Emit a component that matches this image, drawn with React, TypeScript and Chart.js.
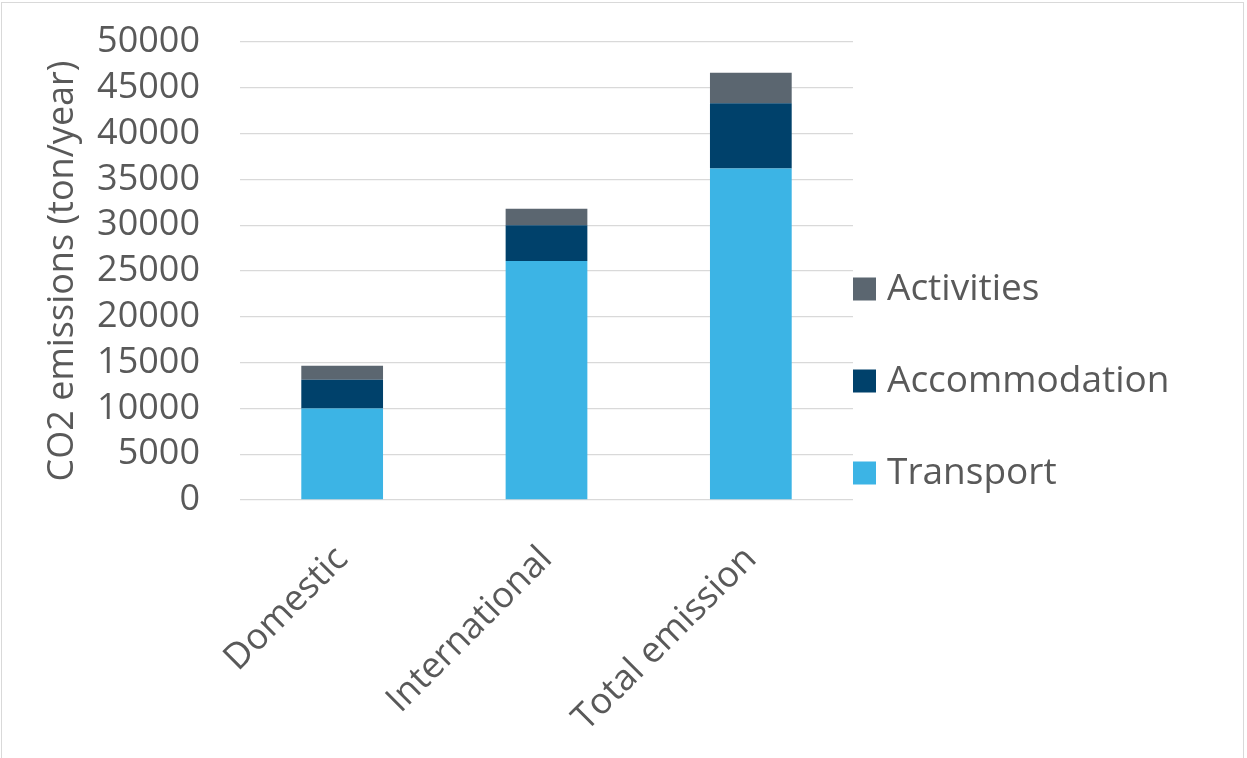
import React, { useEffect, useRef } from "react";
import { Chart, registerables } from "chart.js";

Chart.register(...registerables);

const categories = ["Domestic", "International", "Total emission"];
const transport = [10000, 26100, 36200];
const accommodation = [3130, 3900, 7100];
const activities = [1530, 1800, 3350];
const seriesLabels = ["Transport", "Accommodation", "Activities"];
const seriesColors = ["#3CB4E5", "#00416B", "#5B6670"];
const yAxisTitle = "CO2 emissions (ton/year)";

const FONT = "'Open Sans', 'Noto Sans', sans-serif";
const TEXT = "#595959";

const legendPlugin = {
  id: "customLegend",
  afterDraw(chart: any) {
    const ctx = chart.ctx;
    const ds = chart.data.datasets;
    const x = chart.chartArea.right;
    const gap = 92;
    const n = ds.length;
    const cy = chart.height / 2 + 2;
    ctx.save();
    ctx.font = `37px ${FONT}`;
    ctx.textBaseline = "middle";
    ctx.textAlign = "left";
    for (let k = 0; k < n; k++) {
      const d = ds[n - 1 - k];
      const y = cy + (k - (n - 1) / 2) * gap;
      ctx.fillStyle = d.backgroundColor;
      ctx.fillRect(x, y - 11.5, 23, 23);
      ctx.fillStyle = TEXT;
      ctx.fillText(d.label, x + 34, y);
    }
    ctx.restore();
  },
};

export default function App() {
  const ref = useRef<HTMLCanvasElement>(null);
  useEffect(() => {
    const values = [transport, accommodation, activities];
    const chart = new Chart(ref.current!, {
      type: "bar",
      data: {
        labels: categories,
        datasets: seriesLabels.map((l, i) => ({
          label: l,
          data: values[i],
          backgroundColor: seriesColors[i],
          borderWidth: 0,
          categoryPercentage: 1,
          barPercentage: 0.4,
        })),
      },
      options: {
        animation: false,
        responsive: false,
        devicePixelRatio: 1,
        layout: { padding: { top: 42, right: 394, left: 0, bottom: 0 } },
        plugins: { legend: { display: false }, tooltip: { enabled: false } },
        scales: {
          x: {
            stacked: true,
            grid: { display: false },
            border: { display: false },
            ticks: {
              color: TEXT,
              font: { family: FONT, size: 36 },
              maxRotation: 45,
              minRotation: 45,
              padding: 30,
            },
            afterFit(scale: any) {
              scale.height = 258;
              scale.paddingTop = 0;
            },
          },
          y: {
            stacked: true,
            min: 0,
            max: 50000,
            grid: { color: "#D9D9D9", lineWidth: 1.3, drawTicks: false },
            border: { display: false },
            ticks: {
              stepSize: 5000,
              autoSkip: false,
              color: TEXT,
              padding: 40,
              font: { family: FONT, size: 36, lineHeight: 1 },
              callback: (v: any) => String(v),
            },
            title: {
              display: true,
              text: yAxisTitle,
              color: TEXT,
              font: { family: FONT, size: 36 },
              padding: { top: 41, bottom: 0 },
            },
            afterFit(scale: any) {
              scale.width = 240;
              scale.paddingTop = 0;
              scale.paddingBottom = 0;
            },
          },
        },
      },
      plugins: [legendPlugin],
    });
    return () => chart.destroy();
  }, []);
  return (
    <div style={{ position: "fixed", left: 0, top: 0, width: 1247, height: 758, background: "#fff", overflow: "hidden" }}>
      <div
        style={{
          position: "absolute",
          left: 1,
          top: 2,
          width: 1243,
          height: 800,
          border: "1.5px solid #D9D9D9",
          borderBottom: "none",
          boxSizing: "border-box",
        }}
      />
      <canvas ref={ref} width={1247} height={758} style={{ position: "absolute", left: 0, top: 0 }} />
    </div>
  );
}
